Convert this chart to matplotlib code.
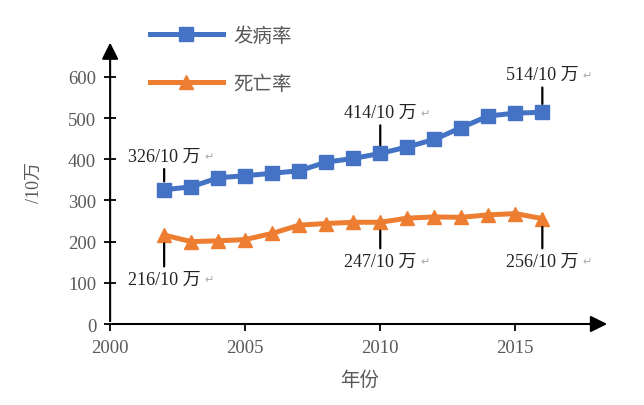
import matplotlib.pyplot as plt

plt.rcParams['font.family'] = ['Liberation Serif', 'Noto Sans CJK SC', 'DejaVu Sans']

years = list(range(2002, 2017))
incidence = [326, 333, 355, 360, 366, 372, 393, 402, 414, 430, 448, 477, 505, 512, 514]
mortality = [216, 200, 202, 205, 220, 240, 244, 247, 247, 257, 260, 259, 265, 268, 256]

# (year, value, label y position)
notes_inc = [(2002, 326, 407), (2010, 414, 513), (2016, 514, 605)]
notes_mor = [(2002, 216, 109), (2010, 247, 153), (2016, 256, 153)]

blue = "#4472C4"
orange = "#ED7D31"
grey = "#595959"

fig = plt.figure(figsize=(6.44, 4.06), dpi=100)
ax = fig.add_axes([0.171, 0.1995, 0.776, 0.70])

l1, = ax.plot(years, incidence, color=blue, lw=3.6, marker="s", markersize=10, label="发病率")
l2, = ax.plot(years, mortality, color=orange, lw=3.6, marker="^", markersize=10, label="死亡率")

ax.set_xlim(2000, 2018.5)
ax.set_ylim(0, 690)
ax.set_xticks([2000, 2005, 2010, 2015])
ax.set_yticks(range(0, 601, 100))

for s in ax.spines.values():
    s.set_visible(False)
ax.annotate("", xy=(1, 0), xytext=(0, 0), xycoords="axes fraction",
            arrowprops=dict(arrowstyle="-|>", color="black", lw=1.5, mutation_scale=25))
ax.annotate("", xy=(0, 1), xytext=(0, 0), xycoords="axes fraction",
            arrowprops=dict(arrowstyle="-|>", color="black", lw=1.5, mutation_scale=25))

ax.tick_params(axis="y", direction="inout", length=8, width=1.3, labelsize=13.5, labelcolor=grey, pad=6)
ax.tick_params(axis="x", direction="out", length=5, width=1.3, labelsize=13.5, labelcolor=grey, pad=6)

ax.set_ylabel("/10万", fontsize=13, color=grey, labelpad=18)
ax.set_xlabel("年份", fontsize=14, color=grey, labelpad=10)

for yr, val, ty in notes_inc + notes_mor:
    ax.annotate(f"{val}/10 万", xy=(yr, val), xytext=(yr, ty), ha="center", va="center",
                fontsize=13, color="#222222",
                arrowprops=dict(arrowstyle="-", color="black", lw=1.6, shrinkA=1, shrinkB=6))
    ax.text(yr + 1.5, ty, "↵", fontsize=8, color="#aaaaaa", va="center", family="DejaVu Sans")

fig.legend(handles=[l1, l2], loc="upper left", bbox_to_anchor=(0.205, 0.975), frameon=False,
           fontsize=14, handlelength=3.8, handletextpad=0.5, labelspacing=1.5, labelcolor=grey)

fig.savefig("out.png", dpi=100)
